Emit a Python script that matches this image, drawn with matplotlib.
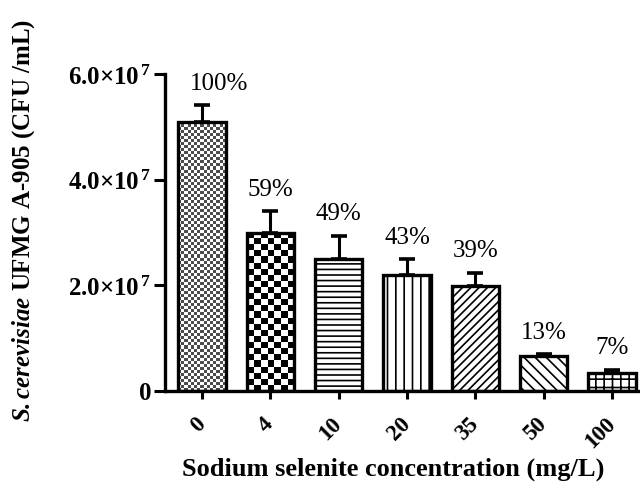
import numpy as np
import matplotlib
matplotlib.use("Agg")
import matplotlib.pyplot as plt

# Data
conc_labels = ["0", "4", "10", "20", "35", "50", "100"]
cfu_mean = [5.1e7, 3.0e7, 2.5e7, 2.2e7, 1.99e7, 0.66e7, 0.34e7]
cfu_err = [0.31e7, 0.40e7, 0.44e7, 0.29e7, 0.25e7, 0.03e7, 0.06e7]
pct_labels = ["100%", "59%", "49%", "43%", "39%", "13%", "7%"]

# fill styles per bar
hatches = [None, None, "---", "||", "////", "\\\\\\", "++"]
checker_cells = [3, 6, None, None, None, None, None]  # px, checkerboard cells
checker_dark = [0.3, 0.0, None, None, None, None, None]
label_dx = [12, 0, 0, 0, 0, 0, 0]  # points, nudges the "100%" label like the original

plt.rcParams["font.family"] = ["Liberation Serif", "DejaVu Serif"]
plt.rcParams["mathtext.fontset"] = "custom"
plt.rcParams["mathtext.rm"] = "Liberation Serif"
plt.rcParams["mathtext.it"] = "Liberation Serif:italic"
plt.rcParams["mathtext.bf"] = "Liberation Serif:bold"
plt.rcParams["mathtext.bfit"] = "Liberation Serif:italic:bold"
plt.rcParams["hatch.linewidth"] = 1.2

fig = plt.figure(figsize=(6.4, 4.85), dpi=100)
ax = fig.add_axes([0.258, 0.192, 0.742, 0.653])

x = np.arange(len(conc_labels))
bars = ax.bar(x, cfu_mean, width=0.69, color="white", edgecolor="black",
              linewidth=2.4, zorder=2)
for b, h in zip(bars, hatches):
    if h:
        b.set_hatch(h)

# checkerboard fills for the first two bars
for b, cell, dark in zip(bars, checker_cells, checker_dark):
    if cell is None:
        continue
    b.set_facecolor("none")
    wpx = 47
    hpx = int(b.get_height() / 6e7 * 317)
    nx = max(1, wpx // cell)
    ny = max(1, hpx // cell)
    board = (np.add.outer(np.arange(ny), np.arange(nx)) % 2).astype(float)
    board = np.where(board > 0, 1.0, dark)
    im = ax.imshow(board, cmap="gray", vmin=0, vmax=1, interpolation="nearest",
                   extent=[b.get_x(), b.get_x() + b.get_width(), 0, b.get_height()],
                   aspect="auto", zorder=1.5)
    im.set_clip_path(b)

ax.errorbar(x, cfu_mean, yerr=[np.zeros(len(x)), cfu_err], fmt="none",
            ecolor="black", elinewidth=2.2, capsize=6, capthick=2.6, zorder=1)

for xi, m, e, lab, dx in zip(x, cfu_mean, cfu_err, pct_labels, label_dx):
    ax.annotate(lab, (xi, m + e), xytext=(dx, 12), textcoords="offset points",
                ha="center", va="baseline", fontsize=18)

ax.set_xlim(-0.54, 6.41)
ax.set_ylim(0, 6e7)
ax.set_yticks([0, 2e7, 4e7, 6e7])
ax.set_yticklabels([r"$\mathbf{0}$", r"$\mathbf{2.0{\times}10^{\,7}}$",
                    r"$\mathbf{4.0{\times}10^{\,7}}$", r"$\mathbf{6.0{\times}10^{\,7}}$"],
                   fontsize=18)
ax.set_xticks(x)
ax.set_xticklabels(conc_labels, rotation=45, ha="right", va="center",
                   rotation_mode="anchor", fontsize=16.5, fontweight="bold")
ax.tick_params(axis="y", width=2.2, length=8, pad=2)
ax.tick_params(axis="x", width=2.2, length=6, pad=15)

for s in ["top", "right"]:
    ax.spines[s].set_visible(False)
for s in ["left", "bottom"]:
    ax.spines[s].set_linewidth(2.4)

fig.text(0.614, 0.008, "Sodium selenite concentration (mg/L)", ha="center",
         va="bottom", fontsize=19, fontweight="bold")
fig.text(0.037, 0.546, r"$\mathbfit{S. cerevisiae}$ UFMG A-905 (CFU /mL)",
         rotation=90, ha="center", va="center", fontsize=18, fontweight="bold")

fig.savefig("out.png", dpi=100)
